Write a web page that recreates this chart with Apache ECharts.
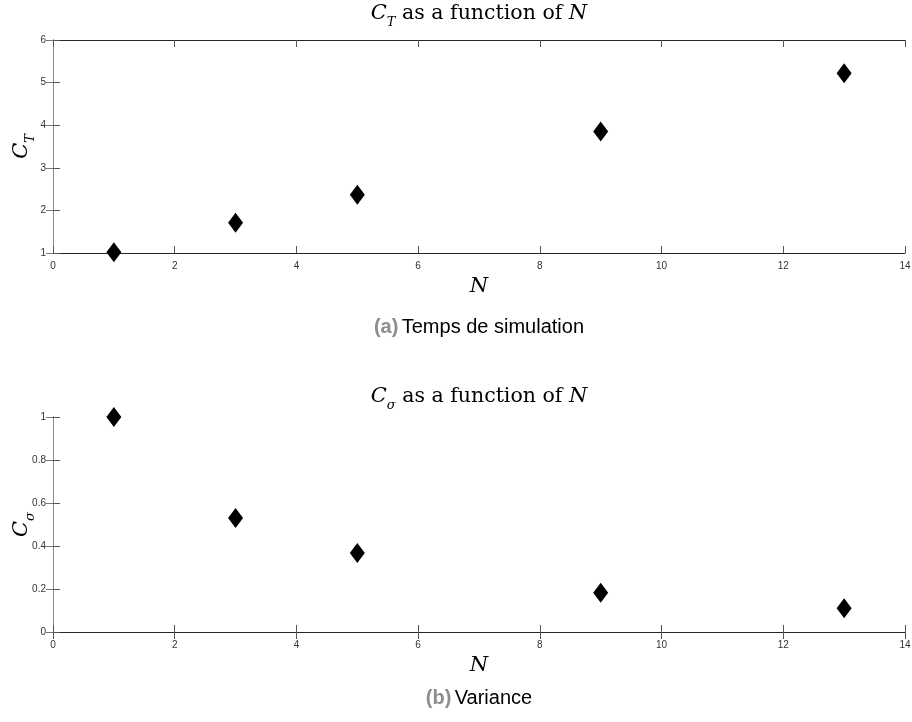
<!DOCTYPE html>
<html>
<head>
<meta charset="utf-8">
<script src="https://cdn.jsdelivr.net/npm/echarts@6/dist/echarts.min.js"></script>
<style>
html,body{margin:0;padding:0;background:#fff;}
#chart{width:912px;height:722px;}
</style>
</head>
<body>
<div id="chart"></div>
<script>
const nValues = [1, 3, 5, 9, 13];
const ctValues = [1.02, 1.71, 2.37, 3.85, 5.22];
const csigmaValues = [1.0, 0.53, 0.367, 0.182, 0.11];
const xTicks = [0, 2, 4, 6, 8, 10, 12, 14];

const chart = echarts.init(document.getElementById('chart'));

const serif = '"DejaVu Serif", "Liberation Serif", serif';
const sans = '"Liberation Sans", Arial, sans-serif';

const richMath = {
  i: { fontFamily: serif, fontStyle: 'italic', fontSize: 21, color: '#000', fill: '#000', lineHeight: 24, verticalAlign: 'middle' },
  s: { fontFamily: serif, fontStyle: 'italic', fontSize: 13, color: '#000', fill: '#000', lineHeight: 24, verticalAlign: 'bottom', padding: [0, 0, -3, 0] },
  r: { fontFamily: serif, fontSize: 20.5, color: '#000', fill: '#000', lineHeight: 24, verticalAlign: 'middle' }
};

function xAxisMain(gi) {
  return {
    gridIndex: gi, type: 'value', min: 0, max: 14, interval: 2,
    name: '{i|N}', nameLocation: 'middle', nameGap: 22, nameMoveOverlap: false,
    nameTextStyle: { rich: richMath },
    axisLine: { lineStyle: { color: '#262626', width: 1 } },
    axisTick: { inside: true, length: 7, lineStyle: { color: '#555' } },
    axisLabel: { fontFamily: sans, fontSize: 10, color: '#333', margin: 8 },
    splitLine: { show: false }
  };
}
function xAxisTop(gi) {
  return {
    gridIndex: gi, type: 'value', min: 0, max: 14, interval: 2, position: 'top',
    axisLine: { lineStyle: { color: '#262626', width: 1 } },
    axisTick: { inside: true, length: 7, lineStyle: { color: '#555' } },
    axisLabel: { show: false }, splitLine: { show: false }
  };
}
function yAxisMain(gi, min, max, interval, nameText, labelFmt) {
  return {
    gridIndex: gi, type: 'value', min: min, max: max, interval: interval,
    name: nameText, nameLocation: 'middle', nameRotate: 90, nameGap: 19, nameMoveOverlap: false,
    nameTextStyle: { rich: richMath },
    axisLine: { lineStyle: { color: '#262626', width: 1 } },
    axisTick: { inside: true, length: 7, lineStyle: { color: '#555' } },
    axisLabel: { fontFamily: sans, fontSize: 10, color: '#333', margin: 7, formatter: labelFmt },
    splitLine: { show: false }
  };
}
function yAxisRight(gi, min, max, interval) {
  return {
    gridIndex: gi, type: 'value', min: min, max: max, interval: interval, position: 'right',
    axisLine: { show: true, lineStyle: { color: '#8a8a8a', width: 1 } },
    axisTick: { show: true, inside: true, length: 7, lineStyle: { color: '#777' } },
    axisLabel: { show: false }, splitLine: { show: false }
  };
}

const option = {
  animation: false,
  backgroundColor: '#fff',
  grid: [
    { left: 53, right: 7, top: 40, bottom: 469, containLabel: false, outerBoundsMode: 'none' },
    { left: 53, right: 7, top: 417, bottom: 90, containLabel: false, outerBoundsMode: 'none' }
  ],
  xAxis: [xAxisMain(0), xAxisMain(1), xAxisTop(0), xAxisTop(1)],
  yAxis: [
    yAxisMain(0, 1, 6, 1, '{i|C}{s|T}', v => String(v)),
    yAxisMain(1, 0, 1, 0.2, '{i|C}{s|σ}', v => String(Math.round(v * 10) / 10)),
    yAxisRight(0, 1, 6, 1),
    yAxisRight(1, 0, 1, 0.2)
  ],
  series: [
    {
      type: 'scatter', xAxisIndex: 0, yAxisIndex: 0,
      data: nValues.map((n, k) => [n, ctValues[k]]),
      symbol: 'diamond', symbolSize: [15, 20],
      itemStyle: { color: '#000', opacity: 1 }
    },
    {
      type: 'scatter', xAxisIndex: 1, yAxisIndex: 1,
      data: nValues.map((n, k) => [n, csigmaValues[k]]),
      symbol: 'diamond', symbolSize: [15, 20],
      itemStyle: { color: '#000', opacity: 1 }
    }
  ],
  graphic: [
    {
      type: 'text', x: 479, y: 14,
      style: { text: '{i|C}{s|T}{r| as a function of }{i|N}', align: 'center', verticalAlign: 'middle', rich: richMath }
    },
    {
      type: 'text', x: 479, y: 397,
      style: { text: '{i|C}{s|σ}{r| as a function of }{i|N}', align: 'center', verticalAlign: 'middle', rich: richMath }
    },
    {
      type: 'text', x: 479, y: 327,
      style: {
        text: '{a|(a)} {b|Temps de simulation}', align: 'center', verticalAlign: 'middle',
        rich: {
          a: { fontFamily: sans, fontWeight: 'bold', fontSize: 20, fill: '#8c8c8c' },
          b: { fontFamily: sans, fontSize: 20, fill: '#000' }
        }
      }
    },
    {
      type: 'text', x: 479, y: 698,
      style: {
        text: '{a|(b)} {b|Variance}', align: 'center', verticalAlign: 'middle',
        rich: {
          a: { fontFamily: sans, fontWeight: 'bold', fontSize: 20, fill: '#8c8c8c' },
          b: { fontFamily: sans, fontSize: 20, fill: '#000' }
        }
      }
    }
  ]
};
chart.setOption(option);
</script>
</body>
</html>
